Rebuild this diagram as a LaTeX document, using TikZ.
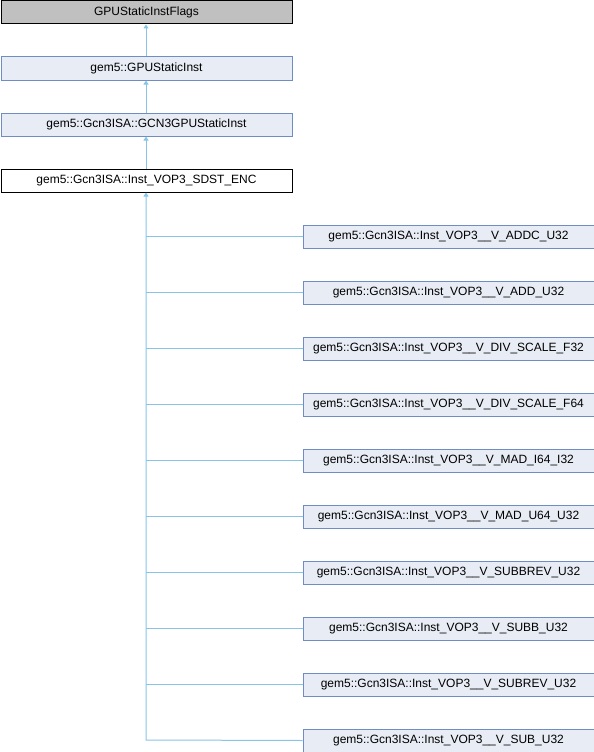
\documentclass[tikz,border=0pt]{standalone}
\usepackage{fontspec}
\setmainfont{Liberation Sans}
\usetikzlibrary{arrows.meta}
\definecolor{boxfill}{RGB}{232,236,245}
\definecolor{boxline}{RGB}{112,140,196}
\definecolor{edge}{RGB}{135,196,230}
\definecolor{grayfill}{RGB}{192,192,192}
\begin{document}
\begin{tikzpicture}[x=1pt,y=-1pt,
  cls/.style={draw=boxline,fill=boxfill,line width=1pt,minimum width=291pt,minimum height=23pt,inner sep=0pt,font=\fontsize{12}{14}\selectfont,anchor=north west},
  root/.style={cls,draw=black,fill=grayfill},
  cur/.style={cls,draw=black,fill=white},
  inh/.style={draw=edge,line width=1pt,-{Triangle[length=4pt,width=5pt]}}]
\useasboundingbox (0,0) rectangle (594,752);
\node[root] (n0) at (0.5,0.5) {GPUStaticInstFlags};
\node[cls] (n1) at (0.5,56.5) {gem5::GPUStaticInst};
\node[cls] (n2) at (0.5,112.5) {gem5::Gcn3ISA::GCN3GPUStaticInst};
\node[cur] (n3) at (0.5,168.5) {gem5::Gcn3ISA::Inst\_VOP3\_SDST\_ENC};
\draw[inh] (n1.north -| 146,0) -- (n0.south -| 146,0);
\draw[inh] (n2.north -| 146,0) -- (n1.south -| 146,0);
\draw[inh] (n3.north -| 146,0) -- (n2.south -| 146,0);
\foreach \i/\t in {0/ADDC\_U32,1/ADD\_U32,2/DIV\_SCALE\_F32,3/DIV\_SCALE\_F64,4/MAD\_I64\_I32,5/MAD\_U64\_U32,6/SUBBREV\_U32,7/SUBB\_U32,8/SUBREV\_U32,9/SUB\_U32}{
  \node[cls] (c\i) at (302.5,224.5+56*\i) {gem5::Gcn3ISA::Inst\_VOP3\_\_V\_\t};
}
\coordinate (tb) at (146,740);
\draw[inh] (c9.west) -- (tb) -- (n3.south -| 146,0);
\foreach \i in {0,...,8}{
  \draw[draw=edge,line width=1pt] (c\i.west) -- (c\i.west -| 146,0);
}
\end{tikzpicture}
\end{document}
